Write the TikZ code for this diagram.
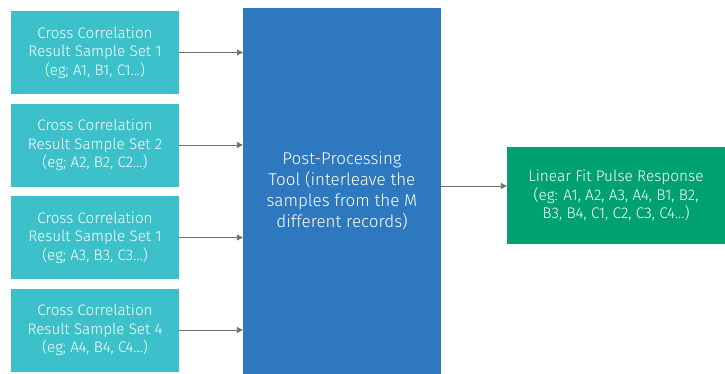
\documentclass[tikz,border=0pt]{standalone}
\usepackage{fontspec}
\setmainfont{Fira Sans}[UprightFont=* Light]
\usetikzlibrary{arrows.meta}
\definecolor{teal}{HTML}{3CC1CA}
\definecolor{toolblue}{HTML}{2E78BF}
\definecolor{fitgreen}{HTML}{00A171}
\definecolor{linkgray}{HTML}{707070}
\tikzset{
  setbox/.style={fill=teal, text=white, minimum width=168pt, minimum height=83pt,
    align=center, inner sep=0pt, font=\fontsize{15.2}{18.5}\selectfont},
  toolbox/.style={fill=toolblue, text=white, minimum width=198pt, minimum height=366pt,
    align=center, inner sep=0pt, font=\fontsize{17}{21}\selectfont},
  fitbox/.style={fill=fitgreen, text=white, minimum width=218pt, minimum height=97pt,
    align=center, inner sep=0pt, font=\fontsize{15.4}{18.5}\selectfont},
  link/.style={draw=linkgray, line width=0.9pt, -{Triangle[length=6pt,width=6pt]}}
}
\begin{document}
\begin{tikzpicture}[x=1pt,y=-1pt]
\useasboundingbox (0,0) rectangle (725,373);
\node[setbox] (s1) at (95,52.5) {Cross Correlation\\Result Sample Set 1\\(eg; A1, B1, C1...)};
\node[setbox] (s2) at (95,145) {Cross Correlation\\Result Sample Set 2\\(eg; A2, B2, C2...)};
\node[setbox] (s3) at (95,237.5) {Cross Correlation\\Result Sample Set 1\\(eg; A3, B3, C3...)};
\node[setbox] (s4) at (95,330) {Cross Correlation\\Result Sample Set 4\\(eg; A4, B4, C4...)};
\node[toolbox] (tool) at (342,191) {Post-Processing\\Tool (interleave the\\samples from the M\\different records)};
\node[fitbox] (fit) at (616,195.5) {Linear Fit Pulse Response\\(eg: A1, A2, A3, A4, B1, B2,\\B3, B4, C1, C2, C3, C4...)};
\foreach \s in {s1,s2,s3,s4}
  \draw[link] (\s.east) -- (\s.east -| tool.west);
\coordinate (mid) at (tool.east |- 0,186);
\draw[link] (mid) -- (mid -| fit.west);
\end{tikzpicture}
\end{document}
